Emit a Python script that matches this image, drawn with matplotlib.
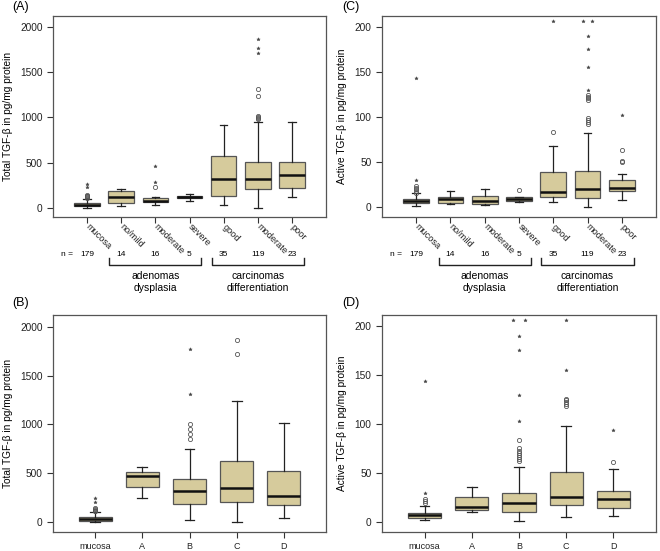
import matplotlib
matplotlib.use("Agg")
import matplotlib.pyplot as plt

plt.rcParams['font.family'] = ['Liberation Sans', 'DejaVu Sans']

# top panels (A, C): tissue groups
top_groups = ["mucosa", "no/mild", "moderate", "severe", "good", "moderate", "poor"]
top_n = [179, 14, 16, 5, 35, 119, 23]

# bottom panels (B, D): stage groups
bottom_groups = ["mucosa", "A", "B", "C", "D"]

# (A) total TGF-beta
a_lo = [0, 22, 33, 74, 30, 0, 115]
a_q1 = [18, 56, 65, 104, 133, 204, 220]
a_med = [32, 115, 78, 118, 322, 319, 362]
a_q3 = [52, 189, 112, 133, 578, 504, 510]
a_hi = [100, 211, 118, 148, 918, 948, 945]
a_circles = [[110, 118, 125, 132, 137], [], [226], [], [], [985, 995, 1005, 1015, 1237, 1311], []]
a_stars = [[230, 259], [], [285, 459], [], [], [1719, 1767, 1867], []]

# (C) active TGF-beta
c_lo = [2, 4, 3, 5.6, 5.6, 1, 8]
c_q1 = [4.4, 5, 4, 7.5, 12, 11, 18]
c_med = [7, 9, 7, 9.6, 17, 21, 22]
c_q3 = [9.6, 12, 13, 11.5, 39, 40, 31]
c_hi = [16, 18, 21, 11.5, 68, 82.6, 37]
c_circles = [[16.5, 18, 20, 22, 24], [], [], [19.6], [84], [93, 95, 97, 99, 119, 121, 123, 125], [51, 52, 64]]
c_stars = [[30, 144], [], [], [], [207], [130, 156, 176, 190, 207, 207], [103]]

# (B) total TGF-beta by stage
b_lo = [0, 249, 27, 0, 44]
b_q1 = [17, 361, 184, 204, 174]
b_med = [34, 477, 320, 351, 269]
b_q3 = [54, 518, 440, 627, 521]
b_hi = [102, 566, 746, 1237, 1012]
b_circles = [[110, 118, 126, 135, 143], [], [852, 899, 951, 1005], [1717, 1867], []]
b_stars = [[210, 245], [], [1308, 1768], [], []]

# (D) active TGF-beta by stage
d_lo = [2, 9.8, 1, 5, 5.8]
d_q1 = [4.4, 12.6, 10.5, 17, 14]
d_med = [6.8, 15.6, 19.4, 25.8, 23.8]
d_q3 = [9.2, 25.5, 29.5, 50.6, 32]
d_hi = [16, 35.7, 56.4, 97.8, 54.3]
d_circles = [[19, 21, 23], [], [62, 64, 66, 68, 70, 72, 76, 84], [118, 120, 122, 124, 126], [61]]
d_stars = [[30, 144], [], [103, 130, 176, 190, 206, 206], [155.5, 206], [94]]

FILL = "#d6cb9c"
EDGE = "#555555"
W, H = 660, 551


def make_axes(left, top, right, bottom):
    return fig.add_axes([left / W, 1 - bottom / H, (right - left) / W, (bottom - top) / H])


def draw_panel(ax, lo, q1, med, q3, hi, circles, stars, width, ylim, yticks):
    stats = []
    for i in range(len(med)):
        stats.append(dict(whislo=lo[i], q1=q1[i], med=med[i], q3=q3[i], whishi=hi[i], fliers=[]))
    pos = list(range(1, len(med) + 1))
    ax.bxp(stats, positions=pos, widths=width, patch_artist=True, showfliers=False,
           capwidths=width * 0.3,
           boxprops=dict(facecolor=FILL, edgecolor=EDGE, linewidth=0.9),
           medianprops=dict(color="#111111", linewidth=1.8),
           whiskerprops=dict(color="#222222", linewidth=0.9),
           capprops=dict(color="#222222", linewidth=0.9))
    for i, vals in enumerate(circles):
        if vals:
            ax.plot([pos[i]] * len(vals), vals, "o", ms=3, mfc="none", mec="#555555", mew=0.6,
                    clip_on=False)
    for i, vals in enumerate(stars):
        seen = []
        for v in vals:
            x = pos[i]
            if vals.count(v) > 1:
                # two identical extremes drawn side by side
                x = pos[i] + (-0.12 if v not in seen else 0.12)
            seen.append(v)
            ax.plot([x], [v], marker="*", ms=2.6, color="#444444", mew=0.3, clip_on=False)
    ax.set_xlim(0.5 - 0.05 * len(med) - 0.15, len(med) + 0.5 + 0.05 * len(med) + 0.15)
    ax.set_ylim(*ylim)
    ax.set_yticks(yticks)
    ax.tick_params(axis="both", direction="out", length=4.5, width=0.8, colors="#333333",
                   labelcolor="#222222", labelsize=7.3, pad=3)
    for s in ax.spines.values():
        s.set_color("#555555")
        s.set_linewidth(0.9)
    ax.set_xticks(pos)


def brackets(ax):
    tr = ax.get_xaxis_transform()
    for x0, x1, l1, l2 in [(1.65, 4.35, "adenomas", "dysplasia"),
                           (4.65, 7.35, "carcinomas", "differentiation")]:
        ax.plot([x0, x0, x1, x1], [-0.204, -0.239, -0.239, -0.204], color="#222222",
                lw=1.0, transform=tr, clip_on=False)
        ax.text((x0 + x1) / 2, -0.294, l1, transform=tr, ha="center", va="center", fontsize=7.5)
        ax.text((x0 + x1) / 2, -0.355, l2, transform=tr, ha="center", va="center", fontsize=7.5)
    ax.text(0.58, -0.186, "n =", transform=tr, ha="right", va="center", fontsize=6)
    for i, n in enumerate(top_n):
        ax.text(i + 1, -0.186, str(n), transform=tr, ha="center", va="center", fontsize=6)


fig = plt.figure(figsize=(6.6, 5.51), dpi=100)

ax_a = make_axes(53, 16, 326, 217)
ax_c = make_axes(382, 16, 656, 217)
ax_b = make_axes(53, 315, 326, 532)
ax_d = make_axes(382, 315, 656, 532)

draw_panel(ax_a, a_lo, a_q1, a_med, a_q3, a_hi, a_circles, a_stars, 0.75, (-104, 2126),
           [0, 500, 1000, 1500, 2000])
draw_panel(ax_c, c_lo, c_q1, c_med, c_q3, c_hi, c_circles, c_stars, 0.75, (-10.6, 212.6),
           [0, 50, 100, 150, 200])
draw_panel(ax_b, b_lo, b_q1, b_med, b_q3, b_hi, b_circles, b_stars, 0.7, (-100, 2120),
           [0, 500, 1000, 1500, 2000])
draw_panel(ax_d, d_lo, d_q1, d_med, d_q3, d_hi, d_circles, d_stars, 0.7, (-10.2, 211.2),
           [0, 50, 100, 150, 200])

for ax in (ax_a, ax_c):
    ax.set_xticklabels(top_groups, rotation=-45, ha="left", va="center", fontsize=6.6,
                       rotation_mode="anchor")
    ax.tick_params(axis="x", pad=1.5)
    brackets(ax)
for ax in (ax_b, ax_d):
    ax.set_xticklabels(bottom_groups, fontsize=6.5)

ax_a.set_ylabel("Total TGF-β in pg/mg protein", fontsize=7.3)
ax_b.set_ylabel("Total TGF-β in pg/mg protein", fontsize=7.3)
ax_c.set_ylabel("Active TGF-β in pg/mg protein", fontsize=7.3)
ax_d.set_ylabel("Active TGF-β in pg/mg protein", fontsize=7.3)
ax_a.yaxis.set_label_coords(-0.147, 0.5)
ax_b.yaxis.set_label_coords(-0.147, 0.5)
ax_c.yaxis.set_label_coords(-0.128, 0.5)
ax_d.yaxis.set_label_coords(-0.128, 0.5)

for lbl, x, y in [("(A)", 12, 7), ("(C)", 342, 7), ("(B)", 12, 303), ("(D)", 342, 303)]:
    fig.text(x / W, 1 - y / H, lbl, ha="left", va="center", fontsize=9)

fig.savefig("out.png", dpi=100)
